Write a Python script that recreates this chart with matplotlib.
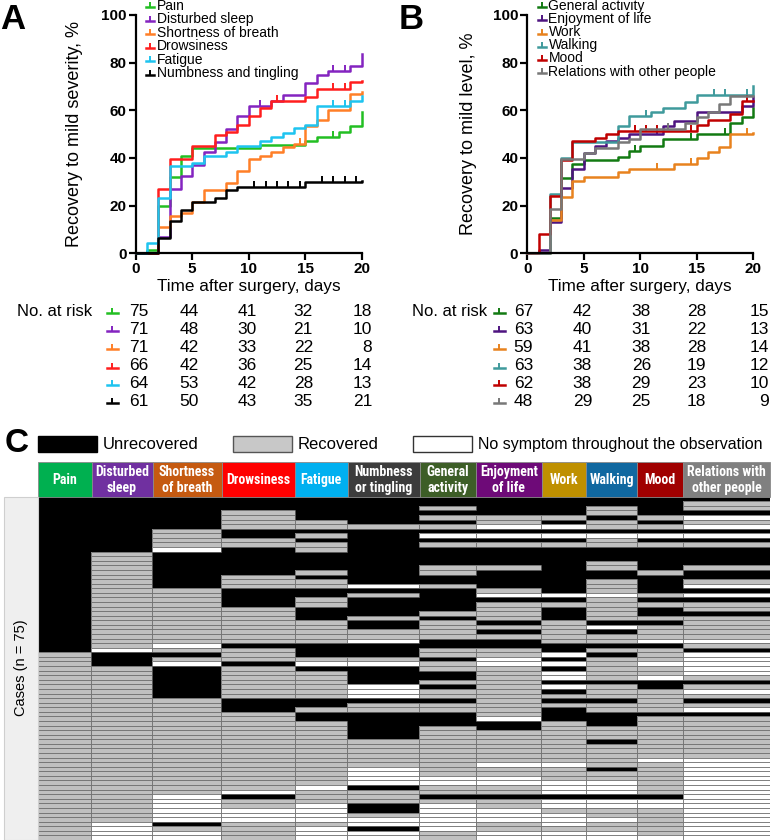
import numpy as np
import matplotlib
matplotlib.use('Agg')
import matplotlib.pyplot as plt
from matplotlib import font_manager
from matplotlib.font_manager import FontProperties
from matplotlib.colors import ListedColormap
from matplotlib.collections import LineCollection
from matplotlib.patches import Rectangle

names = {f.name for f in font_manager.fontManager.ttflist}
BASE = 'Liberation Sans' if 'Liberation Sans' in names else 'DejaVu Sans'
plt.rcParams['font.family'] = [BASE, 'DejaVu Sans']


def find_narrow_bold():
    wanted = ['liberation sans narrow', 'arial narrow', 'roboto condensed',
              'open sans condensed']
    for key in wanted:
        for f in font_manager.fontManager.ttflist:
            w = f.weight
            bold = (w in ('bold', 'heavy', 'black')) or (isinstance(w, int) and w >= 700)
            if bold and f.name.lower() == key:
                return f.fname
    return None


NARROW_PATH = find_narrow_bold()
if NARROW_PATH:
    HEAD_PROP = FontProperties(fname=NARROW_PATH, size=10)
else:
    HEAD_PROP = FontProperties(family=BASE, weight='bold', size=8.6)

# ---------------- data: panel A ----------------
a_labels = ['Pain', 'Disturbed sleep', 'Shortness of breath', 'Drowsiness', 'Fatigue',
            'Numbness and tingling']
a_colors = ['#22bf22', '#8424c0', '#ff7f27', '#ff1e1e', '#1ec4f0', '#000000']
pain_t = [0, 1, 2, 3, 4, 5, 11, 15, 16, 18, 19, 20]
pain_v = [0, 1.3, 20, 32, 41, 44, 45.5, 47, 49, 51, 53.5, 59.5]
sleep_t = [0, 2, 3, 4, 5, 6, 7, 8, 9, 10, 12, 13, 15, 16, 17, 19, 20]
sleep_v = [0, 7, 27, 32.5, 37, 42.5, 46.5, 52, 57.5, 62, 64, 66.5, 71.5, 75, 76.5, 78.5, 83.5]
breath_t = [0, 2, 3, 4, 5, 6, 8, 9, 10, 11, 12, 13, 14, 15, 16, 17, 19, 20]
breath_v = [0, 11, 15.5, 17, 21.5, 26.5, 29.5, 34.5, 39.5, 41, 42.5, 44.5, 46, 53.5, 56, 60, 67, 67.5]
drowsy_t = [0, 2, 3, 5, 7, 8, 9, 10, 11, 12, 15, 16, 19, 20]
drowsy_v = [0, 27, 39.5, 45, 49.5, 51, 54, 57.5, 61, 64, 65.5, 69, 72, 72.5]
fatigue_t = [0, 1, 2, 3, 5, 6, 8, 9, 11, 12, 13, 14, 15, 16, 19, 20]
fatigue_v = [0, 4.5, 23, 36.5, 38, 41, 42.5, 45, 47, 49, 50.5, 52.5, 54, 62, 64, 66]
numb_t = [0, 2, 3, 4, 5, 7, 8, 9, 15, 20]
numb_v = [0, 6.5, 13.5, 18, 21.5, 23, 26.5, 28, 30, 30.5]
a_censor = [[14.5, 17.5], [11, 17.5, 18.5], [14.5], [12.5, 17.5, 18.5], [17.5, 18.5],
            [10.5, 11.5, 12.5, 13.5, 14.5, 16.5, 17.5, 18.5, 19.5]]
a_risk = [[75, 44, 41, 32, 18], [71, 48, 30, 21, 10], [71, 42, 33, 22, 8],
          [66, 42, 36, 25, 14], [64, 53, 42, 28, 13], [61, 50, 43, 35, 21]]

# ---------------- data: panel B ----------------
b_labels = ['General activity', 'Enjoyment of life', 'Work', 'Walking', 'Mood',
            'Relations with other people']
b_colors = ['#127a12', '#4e1480', '#e8821e', '#3f9a9c', '#c00000', '#787878']
gen_t = [0, 2, 3, 4, 5, 8, 9, 10, 12, 15, 18, 19, 20]
gen_v = [0, 15, 31.5, 37.5, 39, 40.5, 43, 45, 48, 50, 54.5, 57, 61]
enjoy_t = [0, 1, 2, 3, 4, 5, 6, 7, 8, 9, 12, 13, 15, 19, 20]
enjoy_v = [0, 1.5, 13, 27.5, 35.5, 42, 45, 47, 48.5, 50, 53.5, 55.5, 59.5, 62, 65.5]
work_t = [0, 2, 3, 4, 5, 8, 9, 13, 15, 16, 17, 18, 20]
work_v = [0, 14, 23.5, 30.5, 32, 34, 35.5, 37.5, 40, 42.5, 44.5, 50, 50.5]
walk_t = [0, 2, 3, 4, 8, 9, 11, 12, 14, 15, 20]
walk_v = [0, 25, 40, 46.5, 53.5, 57.5, 59.5, 61, 63.5, 66.5, 70]
mood_t = [0, 1, 2, 3, 4, 6, 7, 8, 15, 16, 18, 19, 20]
mood_v = [0, 8, 24, 39, 47, 48.5, 50, 51.5, 54, 56, 58.5, 64, 64]
rel_t = [0, 2, 3, 5, 6, 8, 9, 10, 14, 15, 16, 17, 18, 20]
rel_v = [0, 18.5, 39.5, 42, 44, 46.5, 48, 52, 54.5, 57, 59.5, 62.5, 66, 66]
b_censor = [[9.5, 14.5, 17.5], [11.5], [11.5, 14.5, 19.5], [10.5, 16.5, 17.5, 19.5],
            [9.5, 10.5, 11.5, 14.5, 19.5], [12.5]]
b_risk = [[67, 42, 38, 28, 15], [63, 40, 31, 22, 13], [59, 41, 38, 28, 14],
          [63, 38, 26, 19, 12], [62, 38, 29, 23, 10], [48, 29, 25, 18, 9]]

x_ticks = [0, 5, 10, 15, 20]
y_ticks = [0, 20, 40, 60, 80, 100]

# ---------------- data: panel C (run-length: B unrecovered, G recovered, W no symptom) ----
c_headers = ['Pain', 'Disturbed\nsleep', 'Shortness\nof breath', 'Drowsiness', 'Fatigue',
             'Numbness\nor tingling', 'General\nactivity', 'Enjoyment\nof life', 'Work',
             'Walking', 'Mood', 'Relations with\nother people']
c_header_colors = ['#00b050', '#7030a0', '#c55a11', '#ff0000', '#00b0f0', '#3c3c3c',
                   '#3d5e27', '#6e0a78', '#bf9000', '#1068a0', '#a00000', '#808080']
col_pain = 'B34 G41'
col_sleep = 'B12 G21 W1 B3 G34 W4'
col_breath = 'B7 G4 W1 B8 G12 W1 G1 B1 G1 W1 B7 G21 W6 B1 G1 W2'
col_drowsy = 'B3 G4 B2 G2 B6 G3 B4 G8 B1 G3 B1 G7 B3 G17 W1 B1 G2 W3 G4'
col_fatigue = ('B5 G2 B1 G1 B1 G2 B4 G1 B1 G2 B2 G2 B3 G5 B3 G1 W1 B1 G6 B2 G1 B2 '
               'G14 W1 G3 W4 G1 W3')
col_numb = ('B6 G1 B12 W1 B1 G1 B4 G1 B2 G2 W1 B3 G1 W1 B4 W3 B1 G2 B6 G6 W4 B1 G3 '
            'B2 G1 W2 B1 W2')
col_gen = ('B2 G1 B1 G1 B1 G1 B1 W1 B1 G1 B4 G2 B2 G1 B5 G1 B1 G4 B2 G2 B1 G2 B2 G1 '
           'B1 G2 B1 G2 B3 G11 W2 G2 B1 G1 W6 G2')
col_enjoy = ('B4 G2 W1 B1 W1 B1 G1 B4 G1 B4 G1 W1 B1 G4 B1 G1 B1 G1 B2 G2 W2 G11 W1 '
             'B2 G7 W1 G2 W2 G2 B1 G2 W3 G2 W2')
col_work = ('B4 G1 B1 W1 B1 W1 B1 G1 B10 W1 B1 G1 B3 G5 B2 W1 B1 W1 B1 W2 B1 W1 B1 '
            'G1 B1 G1 B3 G9 W1 G3 W3 B1 W2 G1 W3 G1 W2')
col_walk = ('B2 G2 B1 G2 B1 W1 G2 B3 G2 B2 G3 W1 G5 B1 W1 B1 G2 B1 G1 B1 G5 B1 G3 '
            'B1 G2 B3 G3 B1 G5 B1 G2 W3 B1 W2 G2 W1 G2 W2')
col_mood = ('B4 G1 B1 G1 B1 W1 B1 G1 B5 G1 B4 G1 B1 G1 B2 G1 B1 G3 W1 B1 G3 W1 G2 '
            'W1 B2 G5 B1 G9 W1 G7 B1 W2 G6 W1')
col_rel = ('B1 G2 B1 W1 G1 W1 B1 W1 B1 G1 B4 G1 B2 G1 W1 B1 W1 B1 G2 B1 G5 W1 G1 B1 '
           'W5 G1 B1 G1 W1 G1 B1 G1 W1 B1 G9 W18')
c_columns = [col_pain, col_sleep, col_breath, col_drowsy, col_fatigue, col_numb,
             col_gen, col_enjoy, col_work, col_walk, col_mood, col_rel]
n_cases = 75

# ---------------- layout (pixels) ----------------
W, H = 771, 840
fig = plt.figure(figsize=(W / 100, H / 100), dpi=100)


def fr(x0, y0, x1, y1):
    return [x0 / W, 1 - y1 / H, (x1 - x0) / W, (y1 - y0) / H]


def km(ax, t, v, color, cens):
    ax.step(t, v, where='post', color=color, lw=1.8, clip_on=False)
    t_arr = np.array(t)
    cv = [v[np.searchsorted(t_arr, c, side='right') - 1] for c in cens]
    ax.plot(cens, cv, ls='none', marker=2, ms=4, mew=1.4, color=color, clip_on=False)


def style_km(ax, ylabel, lab_x):
    ax.set_xlim(0, 20)
    ax.set_ylim(0, 100)
    ax.set_xticks(x_ticks)
    ax.set_yticks(y_ticks)
    for s in ['top', 'right']:
        ax.spines[s].set_visible(False)
    for s in ['left', 'bottom']:
        ax.spines[s].set_linewidth(1.6)
    ax.tick_params(width=1.6, length=5, labelsize=11, pad=1.5)
    for lab in ax.get_xticklabels() + ax.get_yticklabels():
        lab.set_fontweight('bold')
    ax.set_ylabel(ylabel, fontsize=13)
    ax.yaxis.set_label_coords(lab_x, 0.5)
    ax.set_xlabel('Time after surgery, days', fontsize=12.3)
    ax.xaxis.set_label_coords(0.5, -0.108)
    ax.patch.set_alpha(0)


axA = fig.add_axes(fr(135.7, 15, 361.7, 253.3))
for t, v, c, cs in zip([pain_t, sleep_t, breath_t, drowsy_t, fatigue_t, numb_t],
                       [pain_v, sleep_v, breath_v, drowsy_v, fatigue_v, numb_v],
                       a_colors, a_censor):
    km(axA, t, v, c, cs)
style_km(axA, 'Recovery to mild severity, %', -0.235)

axB = fig.add_axes(fr(527.3, 15, 753, 253.3))
for t, v, c, cs in zip([gen_t, enjoy_t, work_t, walk_t, mood_t, rel_t],
                       [gen_v, enjoy_v, work_v, walk_v, mood_v, rel_v],
                       b_colors, b_censor):
    km(axB, t, v, c, cs)
style_km(axB, 'Recovery to mild level, %', -0.225)

# ---------------- heatmap ----------------
col_edges = [38, 91.5, 152.5, 221.5, 295, 347.5, 419.5, 476, 541.5, 586, 637, 683, 770]
code = {'B': 0, 'G': 1, 'W': 2}


def decode(s):
    out = []
    for tok in s.split():
        out += [code[tok[0]]] * int(tok[1:])
    return out


M = np.array([decode(s) for s in c_columns]).T  # rows x cols
axH = fig.add_axes(fr(38, 496.7, 770, 840))
cmap = ListedColormap(['#000000', '#c0c0c0', '#ffffff'])
axH.pcolormesh(col_edges, np.arange(n_cases + 1), M, cmap=cmap, vmin=-0.5, vmax=2.5)
segs = []
for r in range(1, n_cases):
    for c in range(len(col_edges) - 1):
        if not (M[r - 1, c] == 0 and M[r, c] == 0):
            segs.append([(col_edges[c], r), (col_edges[c + 1], r)])
for c in range(1, len(col_edges) - 1):
    for r in range(n_cases):
        if not (M[r, c - 1] == 0 and M[r, c] == 0):
            segs.append([(col_edges[c], r), (col_edges[c], r + 1)])
for r in range(n_cases):
    if M[r, -1] != 0:
        segs.append([(col_edges[-1], r), (col_edges[-1], r + 1)])
axH.add_collection(LineCollection(segs, colors='#6a6a6a', linewidths=0.6))
axH.set_xlim(col_edges[0], col_edges[-1] + 0.5)
axH.set_ylim(n_cases, 0)
axH.axis('off')

# ---------------- overlay (pixel coordinates) ----------------
ov = fig.add_axes([0, 0, 1, 1])
ov.set_xlim(0, W)
ov.set_ylim(H, 0)
ov.axis('off')
ov.patch.set_visible(False)

# panel letters
ov.text(0, 3, 'A', fontsize=25, fontweight='heavy', va='top', ha='left')
ov.text(399, 3, 'B', fontsize=25, fontweight='heavy', va='top', ha='left')
ov.text(5, 443, 'C', fontsize=24, fontweight='heavy', va='center', ha='left')


def legend_rows(x_h, x_t, y0, dy, labels, colors):
    for i, (lab, col) in enumerate(zip(labels, colors)):
        y = y0 + dy * i
        ov.plot([x_h, x_h + 8], [y + 1.5, y + 1.5], color=col, lw=1.8)
        ov.plot([x_h + 4], [y + 1.5], marker=2, ms=3.5, mew=1.4, color=col)
        ov.text(x_t, y, lab, fontsize=10, va='center', ha='left')


legend_rows(145.5, 157, 5.5, 13.6, a_labels, a_colors)
legend_rows(537.5, 548.5, 5.7, 13.2, b_labels, b_colors)

# risk tables
risk_y = [311, 329, 347, 365.5, 383, 401]


def risk_table(x_lab, x_mark, x_nums, risk, colors):
    ov.text(x_lab, risk_y[0], 'No. at risk', fontsize=12, va='center', ha='left')
    for y, row, col in zip(risk_y, risk, colors):
        ov.plot([x_mark - 5.5, x_mark + 5.5], [y + 2, y + 2], color=col, lw=1.8)
        ov.plot([x_mark], [y + 2], marker=2, ms=3.5, mew=1.4, color=col)
        for xn, n in zip(x_nums, row):
            ov.text(xn, y, str(n), fontsize=12.5, va='center', ha='right')


risk_table(17, 112, [148, 199, 257, 313, 372], a_risk, a_colors)
risk_table(412, 499, [533, 592, 651, 706, 769], b_risk, b_colors)

# panel C legend
leg_items = [(38, '#000000', '#000000', 'Unrecovered', 12),
             (233, '#c8c8c8', '#555555', 'Recovered', 12),
             (413, '#ffffff', '#333333', 'No symptom throughout the observation', 11.5)]
for x0, fc, ec, lab, fs in leg_items:
    ov.add_patch(Rectangle((x0, 436), 59, 16, facecolor=fc, edgecolor=ec, lw=1.0))
    ov.text(x0 + 65, 444.5, lab, fontsize=fs, va='center', ha='left')

# header row
for i, (lab, col) in enumerate(zip(c_headers, c_header_colors)):
    x0, x1 = col_edges[i], col_edges[i + 1]
    ov.add_patch(Rectangle((x0, 461.7), x1 - x0, 35, facecolor=col, edgecolor='#8a8a8a',
                           lw=0.6))
    ov.text((x0 + x1) / 2, 480, lab, color='white', fontproperties=HEAD_PROP,
            ha='center', va='center', linespacing=1.1)

# cases strip
ov.add_patch(Rectangle((4, 497), 33.5, 342.5, facecolor='#efefef', edgecolor='#cfcfcf',
                       lw=0.8))
ov.text(21, 668, 'Cases (n = 75)', rotation=90, fontsize=10.5, ha='center', va='center')

fig.savefig('out.png', dpi=100)
